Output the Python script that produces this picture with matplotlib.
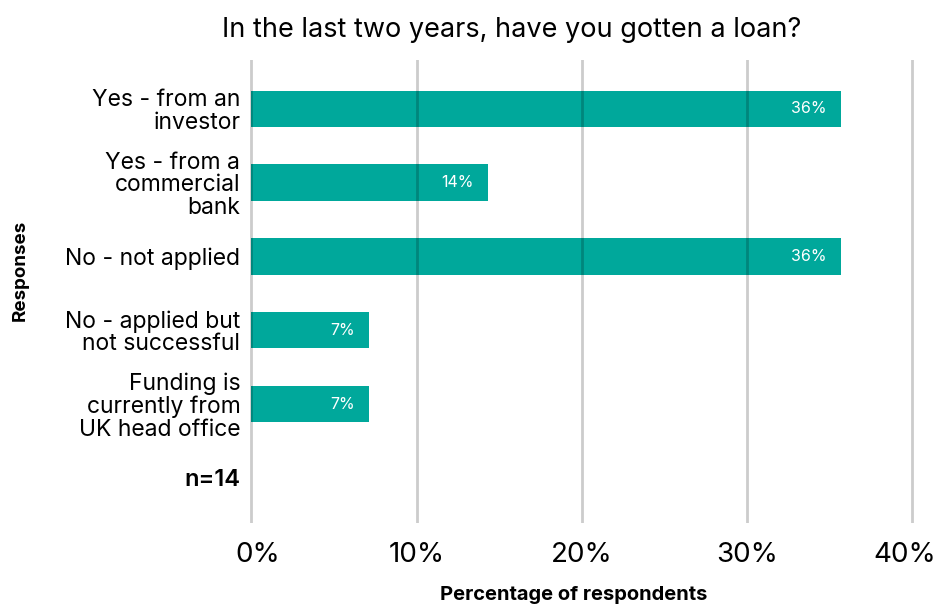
import matplotlib
matplotlib.use("Agg")
import matplotlib.pyplot as plt
import matplotlib.transforms as mtransforms
import numpy as np

plt.rcParams['font.family'] = ['Inter', 'DejaVu Sans']

categories = [
    "Yes - from an\ninvestor",
    "Yes - from a\ncommercial\nbank",
    "No - not applied",
    "No - applied but\nnot successful",
    "Funding is\ncurrently from\nUK head office",
]
values = [35.7, 14.3, 35.7, 7.1, 7.1]
sample_note = "n=14"
xticks = [0, 10, 20, 30, 40]
xtick_labels = ["0%", "10%", "20%", "30%", "40%"]
title = "In the last two years, have you gotten a loan?"
xlabel = "Percentage of respondents"
ylabel = "Responses"

W, H = 940, 606
fig = plt.figure(figsize=(W / 100, H / 100), dpi=100)
L, R, T, B = 250, 920, 60, 523
ax = fig.add_axes([L / W, 1 - B / H, (R - L) / W, (B - T) / H])

teal = "#00A89B"
ypos = np.arange(len(categories))
ax.barh(ypos, values, height=0.49, color=teal, zorder=1)

for y, v in zip(ypos, values):
    ax.annotate(f"{v:.0f}%", xy=(v, y), xytext=(-14, 0), textcoords="offset pixels",
                ha="right", va="center", color="white", fontsize=11.5, zorder=3)

for xt in xticks:
    ax.axvline(xt, color="black", alpha=0.2, linewidth=2, zorder=2)

all_ticks = list(ypos) + [len(categories)]
ax.set_yticks(all_ticks)
ax.set_yticklabels(categories + [sample_note], fontsize=16.5, linespacing=1.02)
lbls = ax.get_yticklabels()
lbls[-1].set_fontweight("semibold")
lbls[-1].set_fontsize(17)

ax.set_ylim(len(categories) + 0.61, -0.66)
ax.set_xlim(-0.09, 40.49)
ax.set_xticks(xticks)
ax.set_xticklabels(xtick_labels, fontsize=20)

ax.tick_params(axis="y", length=0, pad=7)
ax.tick_params(axis="x", length=0, pad=14)
for s in ax.spines.values():
    s.set_visible(False)

xl = ax.get_xticklabels()
xl[0].set_transform(xl[0].get_transform() + mtransforms.ScaledTranslation(6 / 100, 0, fig.dpi_scale_trans))
xl[-1].set_transform(xl[-1].get_transform() + mtransforms.ScaledTranslation(-7 / 100, 0, fig.dpi_scale_trans))

fig.text(512 / W, 1 - 30 / H, title, ha="center", va="center", fontsize=19.5)
fig.text(574 / W, 1 - 595 / H, xlabel, ha="center", va="center", fontsize=14.5, fontweight="bold")
fig.text(20 / W, 1 - 270 / H, ylabel, ha="center", va="center", rotation=90, fontsize=13.5, fontweight="bold")

fig.savefig("out.png", dpi=100)
